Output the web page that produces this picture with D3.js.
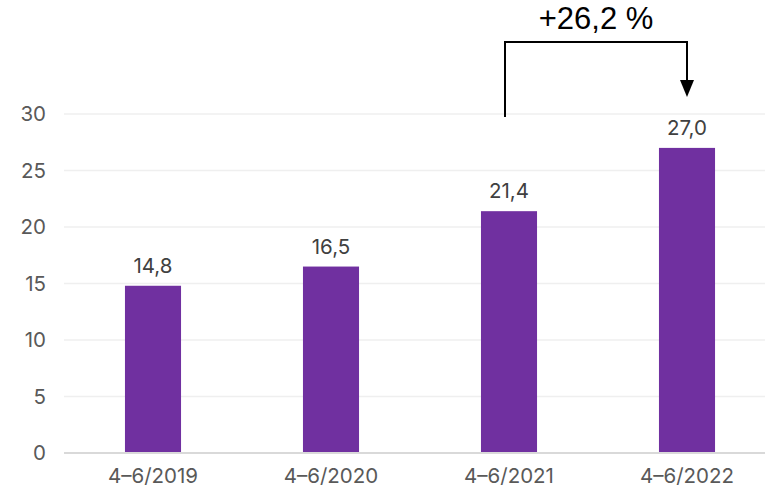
<!DOCTYPE html>
<html>
<head>
<meta charset="utf-8">
<script src="https://cdn.jsdelivr.net/npm/d3@7"></script>
<style>
  body { margin: 0; background: #fff; }
  svg { display: block; }
</style>
</head>
<body>
<svg id="chart" width="765" height="490"></svg>
<script>
var categories = ["4–6/2019", "4–6/2020", "4–6/2021", "4–6/2022"];
var values = [14.8, 16.5, 21.4, 27.0];
var yTicks = [0, 5, 10, 15, 20, 25, 30];
var changeLabel = "+26,2 %";
var changeFrom = 2, changeTo = 3;

var svg = d3.select("#chart");
var margin = {top: 114, left: 64, bottom: 37};
var height = 490 - margin.top - margin.bottom;

var x = d3.scaleBand()
    .domain(categories)
    .range([margin.left, margin.left + 4 * 178])
    .paddingInner(0.685)
    .paddingOuter(0.3425);

var y = d3.scaleLinear()
    .domain([0, 30])
    .range([margin.top + height, margin.top]);

var fmt = function(v) { return d3.format(".1f")(v).replace(".", ","); };

// grid
svg.append("g")
    .selectAll("line")
    .data(yTicks.filter(function(d) { return d > 0; }))
    .join("line")
    .attr("x1", margin.left).attr("x2", 765)
    .attr("y1", function(d) { return y(d); })
    .attr("y2", function(d) { return y(d); })
    .attr("stroke", "#efefef")
    .attr("stroke-width", 1.5);

// y axis labels
svg.append("g")
    .attr("transform", "translate(" + (margin.left - 18) + ",0)")
    .call(d3.axisLeft(y).tickValues(yTicks).tickSize(0).tickPadding(0))
    .call(function(g) { g.select(".domain").remove(); })
    .selectAll("text")
    .attr("font-family", "Inter, Roboto, sans-serif")
    .attr("font-size", 20.5)
    .attr("fill", "#595959");

// bars
svg.append("g")
    .selectAll("rect")
    .data(values)
    .join("rect")
    .attr("x", function(d, i) { return x(categories[i]); })
    .attr("width", x.bandwidth())
    .attr("y", function(d) { return y(d); })
    .attr("height", function(d) { return y(0) - y(d); })
    .attr("fill", "#7030a0");

// baseline + x labels
svg.append("g")
    .attr("transform", "translate(0," + y(0) + ")")
    .call(d3.axisBottom(x).tickSize(0).tickPadding(15))
    .call(function(g) {
        g.select(".domain").attr("stroke", "#d9d9d9").attr("stroke-width", 2)
            .attr("d", "M" + margin.left + ",0H765");
    })
    .selectAll("text")
    .attr("font-family", "Inter, Roboto, sans-serif")
    .attr("font-size", 20.5)
    .attr("fill", "#595959");

// value labels
svg.append("g")
    .selectAll("text")
    .data(values)
    .join("text")
    .attr("x", function(d, i) { return x(categories[i]) + x.bandwidth() / 2; })
    .attr("y", function(d) { return y(d) - 13; })
    .attr("text-anchor", "middle")
    .attr("font-family", "Inter, Roboto, sans-serif")
    .attr("font-size", 20.5)
    .attr("fill", "#404040")
    .text(fmt);

// change annotation
var xa = x(categories[changeFrom]) + x.bandwidth() / 2 - 4;
var xb = x(categories[changeTo]) + x.bandwidth() / 2;
var topY = 42;
svg.append("path")
    .attr("d", "M" + xa + ",117V" + topY + "H" + xb + "V82")
    .attr("fill", "none")
    .attr("stroke", "#000")
    .attr("stroke-width", 2);
svg.append("path")
    .attr("d", "M" + (xb - 7) + ",80L" + (xb + 7) + ",80L" + xb + ",97Z")
    .attr("fill", "#000");
svg.append("text")
    .attr("x", (xa + xb) / 2)
    .attr("y", 29)
    .attr("text-anchor", "middle")
    .attr("font-family", "Liberation Sans, Arial, sans-serif")
    .attr("font-size", 31)
    .attr("fill", "#000")
    .text(changeLabel);
</script>
</body>
</html>
